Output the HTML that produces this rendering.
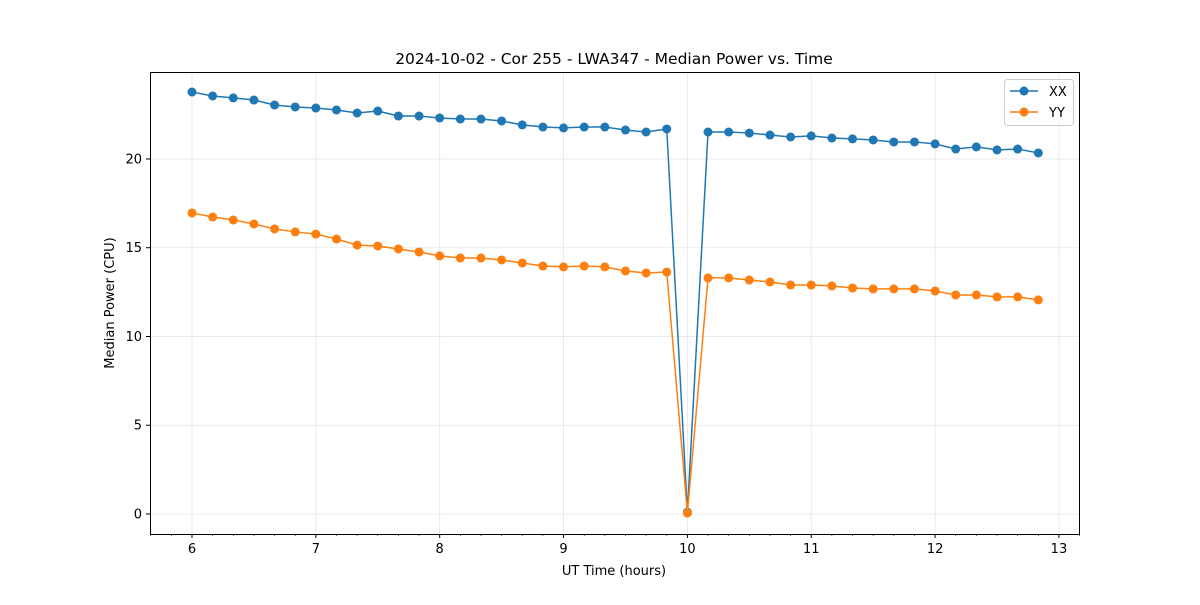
<!DOCTYPE html>
<html><head><meta charset="utf-8"><style>
body{margin:0;background:#fff;font-family:"Liberation Sans","DejaVu Sans",sans-serif;}
svg text{font-family:"DejaVu Sans","Liberation Sans",sans-serif;}
</style></head><body>
<svg id="chart" width="1200" height="600" xmlns="http://www.w3.org/2000/svg">
<rect width="1200" height="600" fill="#fff"/>
<g id="grid"></g>
<g id="series"></g>
<rect x="150.5" y="72.5" width="929" height="462" fill="none" stroke="#000" stroke-width="1"/>
<g id="axes"></g>
<text x="614" y="64" text-anchor="middle" font-size="15.5">2024-10-02 - Cor 255 - LWA347 - Median Power vs. Time</text>
<text x="614" y="575" text-anchor="middle" font-size="13">UT Time (hours)</text>
<text x="114" y="303" text-anchor="middle" font-size="13" transform="rotate(-90 114 303)">Median Power (CPU)</text>
<g>
<rect x="1004.5" y="79.5" width="69" height="46" rx="3" fill="#fff" fill-opacity="0.8" stroke="#ccc"/>
<g>
<line x1="1010" y1="91" x2="1038" y2="91" stroke="#1f77b4" stroke-width="1.5"/>
<circle cx="1024" cy="91" r="4.5" fill="#1f77b4"/>
<text x="1049" y="96" font-size="13">XX</text></g>
<g>
<line x1="1010" y1="112" x2="1038" y2="112" stroke="#ff7f0e" stroke-width="1.5"/>
<circle cx="1024" cy="112" r="4.5" fill="#ff7f0e"/>
<text x="1049" y="117" font-size="13">YY</text></g>
</g>
</svg>
<script>
const times = Array.from({length:42},(_,i)=>6+i/6);
const xxValues = [23.77,23.55,23.44,23.32,23.04,22.93,22.87,22.76,22.59,22.70,22.42,22.42,22.31,22.25,22.25,22.14,21.92,21.80,21.75,21.80,21.80,21.63,21.52,21.69,0.1,21.52,21.52,21.46,21.35,21.24,21.30,21.18,21.13,21.07,20.96,20.96,20.85,20.56,20.68,20.51,20.56,20.34];
const yyValues = [16.96,16.73,16.56,16.34,16.06,15.89,15.77,15.49,15.15,15.10,14.93,14.76,14.54,14.42,14.42,14.31,14.14,13.97,13.92,13.97,13.92,13.69,13.58,13.63,0.05,13.30,13.30,13.18,13.07,12.90,12.90,12.85,12.73,12.68,12.68,12.68,12.56,12.34,12.34,12.23,12.23,12.06];
const xTicks = [6,7,8,9,10,11,12,13];
const yTicks = [0,5,10,15,20];
const NS="http://www.w3.org/2000/svg";
const X0=150,X1=1080,Y0=534,Y1=72,xmin=5.661,xmax=13.17,ymin=-1.127,ymax=24.9;
const sx=v=>X0+(v-xmin)/(xmax-xmin)*(X1-X0);
const sy=v=>Y0-(v-ymin)/(ymax-ymin)*(Y0-Y1);
function mk(tag,attrs,parent){const e=document.createElementNS(NS,tag);for(const k in attrs)e.setAttribute(k,attrs[k]);parent.appendChild(e);return e;}
const grid=document.getElementById('grid'),axes=document.getElementById('axes'),ser=document.getElementById('series');
xTicks.forEach(t=>{const x=sx(t);
 const g=mk('line',{x1:x,x2:x,y1:Y1,y2:Y0,stroke:'#e5e5e5','stroke-width':0.8},grid);
 
 
 mk('line',{x1:x,x2:x,y1:Y0,y2:Y0+4,stroke:'#000'},axes);
 const l=mk('text',{x:x,y:Y0+19,'text-anchor':'middle','font-size':13},axes);l.textContent=t;
 
 
});
for(let m=Math.ceil(xmin*6);m/6<=xmax;m++){const x=sx(m/6);mk('line',{x1:x,x2:x,y1:Y0,y2:Y0+2,stroke:'#000','stroke-width':0.6},axes);}
yTicks.forEach(t=>{const y=sy(t);
 const g=mk('line',{x1:X0,x2:X1,y1:y,y2:y,stroke:'#e5e5e5','stroke-width':0.8},grid);
 
 
 mk('line',{x1:X0-4,x2:X0,y1:y,y2:y,stroke:'#000'},axes);
 const l=mk('text',{x:X0-8,y:y+4.5,'text-anchor':'end','font-size':13},axes);l.textContent=t;
 
 
});
function draw(vals,color,name){
 const p=mk('polyline',{points:vals.map((v,i)=>sx(times[i])+','+sy(v)).join(' '),fill:'none',stroke:color,'stroke-width':1.5},ser);
 
 
 vals.forEach((v,i)=>{const c=mk('circle',{cx:sx(times[i]),cy:sy(v),r:4.5,fill:color},ser);
  
  });
}
draw(xxValues,'#1f77b4','xx');
draw(yyValues,'#ff7f0e','yy');
</script>
</body></html>
